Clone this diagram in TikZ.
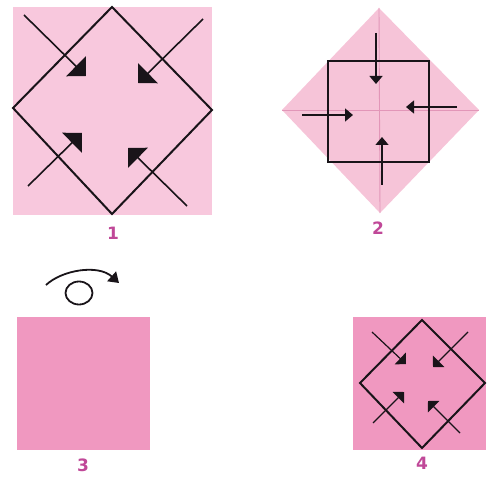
\documentclass[tikz,border=0pt]{standalone}
\usepackage{fontspec}
\setmainfont{DejaVu Sans}
\usetikzlibrary{arrows.meta}
\definecolor{paleA}{RGB}{248,200,221}
\definecolor{paleB}{RGB}{246,196,216}
\definecolor{crease}{RGB}{226,150,184}
\definecolor{deep}{RGB}{240,152,192}
\definecolor{lab}{RGB}{192,72,152}
\definecolor{ink}{RGB}{25,20,25}
\tikzset{
  lbl/.style={text=lab,font=\fontsize{17}{17}\selectfont\bfseries,inner sep=0pt},
  bigarr/.style={draw=ink,line width=1.6pt,-{Triangle[length=14pt,width=28pt]}},
  midarr/.style={draw=ink,line width=1.4pt,-{Triangle[length=8pt,width=13pt]}},
  smallarr/.style={draw=ink,line width=1.2pt,-{Triangle[length=8pt,width=16pt]}},
  fold/.style={draw=ink,line width=2pt,line join=miter}
}
\begin{document}
\begin{tikzpicture}[x=1pt,y=-1pt]
\useasboundingbox (0,0) rectangle (487,481);
% ---------- panel 1
\fill[paleA] (13,7) rectangle (212,215);
\draw[fold] (112,7) -- (212,110) -- (112,214) -- (13,108) -- cycle;
\coordinate (a1s) at (24,15);  \coordinate (a1t) at (86,76);
\coordinate (b1s) at (203,19); \coordinate (b1t) at (138,83);
\coordinate (c1s) at (28,186); \coordinate (c1t) at (82,133);
\coordinate (d1s) at (187,206);\coordinate (d1t) at (128,148);
\draw[bigarr] (a1s) -- (a1t);
\draw[bigarr] (b1s) -- (b1t);
\draw[bigarr] (c1s) -- (c1t);
\draw[bigarr] (d1s) -- (d1t);
\node[lbl] (n1) at (113,233) {1};
% ---------- panel 2
\fill[paleB] (379,8) -- (479,110) -- (380,213) -- (282,110) -- cycle;
\draw[crease,line width=0.9pt] (282,110) -- (479,110);
\draw[crease,line width=0.9pt] (379,8) -- (380,213);
\draw[fold] (328,61) rectangle (429,162);
\coordinate (a2s) at (376,33);  \coordinate (a2t) at (376,84);
\coordinate (b2s) at (302,115); \coordinate (b2t) at (353,115);
\coordinate (c2s) at (457,107); \coordinate (c2t) at (406,107);
\coordinate (d2s) at (382,185); \coordinate (d2t) at (382,137);
\draw[midarr] (a2s) -- (a2t);
\draw[midarr] (b2s) -- (b2t);
\draw[midarr] (c2s) -- (c2t);
\draw[midarr] (d2s) -- (d2t);
\node[lbl] (n2) at (378,228) {2};
% ---------- panel 3
\coordinate (r0) at (46,285);
\coordinate (r1) at (119,283);
\draw[ink,line width=1.8pt,-{Triangle[length=10pt,width=13pt]}] (r0) .. controls (62,270) and (98,264) .. (r1);
\draw[ink,line width=1.8pt] (79,293) ellipse [x radius=13.5pt, y radius=11.5pt];
\fill[deep] (17,317) rectangle (150,450);
\node[lbl] (n3) at (83,465) {3};
% ---------- panel 4
\fill[deep] (353,317) rectangle (486,450);
\draw[fold] (422,320) -- (485,383) -- (422,448) -- (360,383) -- cycle;
\coordinate (a4s) at (372,332); \coordinate (a4t) at (406,364);
\coordinate (b4s) at (468,332); \coordinate (b4t) at (433,367);
\coordinate (c4s) at (373,423); \coordinate (c4t) at (404,392);
\coordinate (d4s) at (460,433); \coordinate (d4t) at (428,401);
\draw[smallarr] (a4s) -- (a4t);
\draw[smallarr] (b4s) -- (b4t);
\draw[smallarr] (c4s) -- (c4t);
\draw[smallarr] (d4s) -- (d4t);
\node[lbl] (n4) at (422,463) {4};
\end{tikzpicture}
\end{document}
